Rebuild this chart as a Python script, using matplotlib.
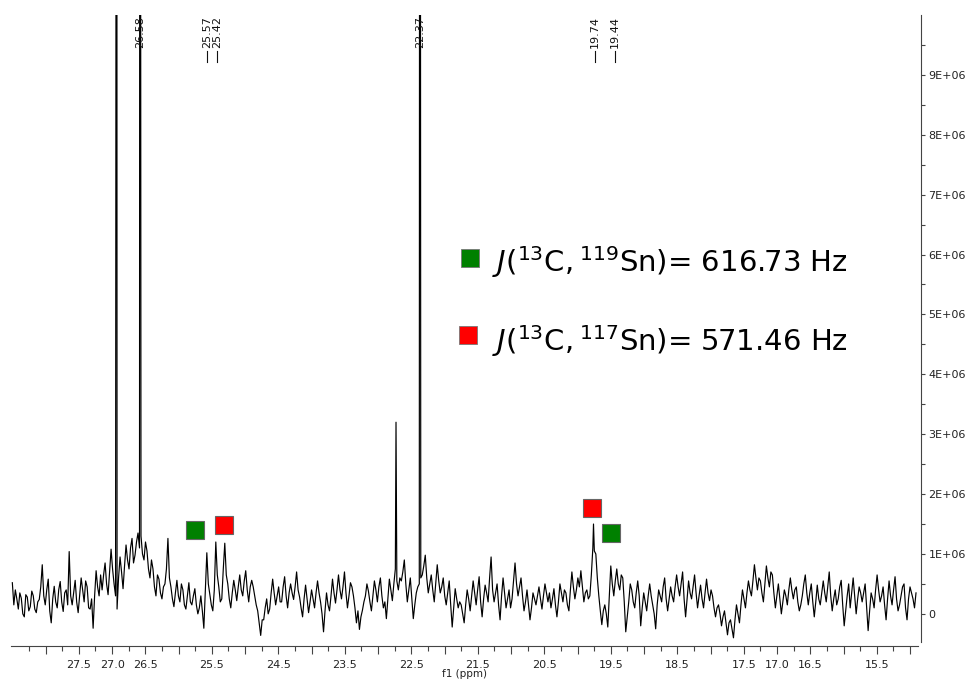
import numpy as np
import matplotlib.pyplot as plt
from matplotlib.ticker import FixedLocator, FixedFormatter

# 13C spectrum baseline, read every 0.0225 ppm from 28.50 ppm downwards (units of 1e5)
trace = [
    5.2, 1.5, 4.0, 2.5, 0.8, 3.5, 2.6, 0.0, -0.5, 3.2,
    2.8, 0.5, 1.2, 3.8, 3.0, 0.8, 0.2, 2.0, 2.4, 4.5,
    8.2, 3.0, 1.5, 4.0, 5.8, 0.5, -1.5, 2.5, 4.6, 2.0,
    1.0, 4.0, 5.4, 2.0, 0.4, 3.5, 4.0, 1.5, 10.4, 3.0,
    1.5, 3.5, 5.6, 2.0, 0.2, 3.0, 6.0, 4.0, 2.0, 5.5,
    4.5, 1.0, 0.8, 2.5, -2.4, 3.0, 7.2, 4.5, 3.0, 6.5,
    4.0, 6.5, 8.5, 5.0, 3.2, 7.0, 10.8, 7.5, 5.0, 3.0,
    0.8, 6.0, 9.5, 7.0, 4.2, 8.0, 11.5, 9.0, 7.5, 11.0,
    12.6, 8.5, 9.8, 12.0, 13.5, 11.0, 13.0, 10.0, 9.0, 12.0,
    10.5, 7.5, 6.0, 9.0, 7.5, 4.5, 3.0, 6.5, 5.8, 3.5,
    2.5, 4.5, 5.0, 7.5, 12.6, 6.0, 4.5, 2.5, 1.2, 3.5,
    5.6, 3.0, 2.0, 5.0, 4.0, 1.5, 0.8, 3.0, 5.2, 2.0,
    1.5, 3.0, 4.2, 1.5, 0.0, 1.0, 3.0, 0.5, -2.4, 4.0,
    10.2, 5.0, 3.2, 1.5, 0.5, 4.0, 12.0, 6.5, 4.5, 2.0,
    2.5, 7.5, 11.8, 6.5, 5.0, 2.5, 1.0, 3.5, 5.6, 4.0,
    2.2, 4.5, 6.5, 4.0, 3.0, 5.5, 7.2, 4.0, 2.0, 4.5,
    5.6, 4.5, 3.0, 1.5, 0.5, -1.5, -3.6, -1.0, -1.0, 1.0,
    2.5, 0.0, 0.8, 3.5, 5.8, 3.5, 1.5, 3.0, 4.5, 2.0,
    2.0, 4.5, 6.2, 3.0, 1.0, 3.5, 5.0, 3.5, 2.4, 4.5,
    7.0, 4.0, 2.8, 1.0, -0.5, 2.5, 4.8, 2.5, 0.2, 2.0,
    4.0, 2.5, 1.0, 3.5, 5.5, 3.5, 2.0, 0.0, -3.0, 0.5,
    3.5, 1.5, 0.5, 3.0, 5.8, 3.5, 1.8, 4.0, 6.5, 4.0,
    2.5, 4.5, 7.0, 3.5, 1.0, 3.0, 5.2, 4.5, 3.0, 1.0,
    -1.5, 0.5, -2.6, -0.5, 0.6, 2.0, 3.0, 5.0, 3.8, 2.0,
    0.5, 3.0, 5.5, 4.0, 2.0, 4.5, 6.0, 3.0, 1.0, 2.0,
    -0.8, 2.5, 5.8, 4.0, 2.2, 5.0, 7.5, 5.5, 4.0, 6.0,
    5.5, 7.0, 9.0, 5.0, 2.0, 4.0, 6.0, 2.5, -0.8, 1.5,
    3.5, 4.5, 5.0, 6.0, 6.5, 8.0, 9.8, 6.0, 3.5, 5.0,
    6.5, 4.0, 2.0, 5.0, 8.2, 5.5, 3.5, 4.5, 6.0, 3.0,
    1.5, 3.5, 5.5, 1.5, -2.2, 1.0, 4.2, 2.5, 1.0, 2.0,
    1.5, 0.0, -1.5, 1.5, 4.0, 2.5, 0.5, 3.0, 5.5, 3.5,
    1.5, 4.0, 6.2, 2.0, -0.5, 2.5, 4.8, 3.5, 2.0, 6.0,
    9.5, 4.0, 2.0, 3.5, 5.0, 1.5, -1.0, 3.0, 6.0, 3.5,
    1.0, 2.5, 4.0, 1.0, 2.5, 5.5, 8.5, 5.0, 3.0, 4.5,
    6.0, 3.0, 0.5, 2.0, 4.0, 1.5, -1.0, 1.0, 3.5, 2.5,
    1.5, 3.0, 4.5, 2.5, 0.8, 3.0, 5.0, 3.5, 2.0, 3.5,
    1.0, 2.5, 4.2, 1.5, -0.5, 2.0, 5.0, 3.5, 2.0, 4.0,
    3.5, 1.5, 0.5, 4.0, 7.0, 4.5, 2.5, 4.0, 6.0, 4.5,
    7.2, 4.5, 2.0, 3.5, 4.0, 2.5, 3.0, 6.5, 11.0, 10.5,
    10.0, 6.0, 3.0, 0.5, -1.8, 0.5, 1.5, 0.0, -2.2, 3.0,
    8.0, 5.0, 3.0, 5.5, 7.5, 5.0, 4.0, 6.5, 6.0, 2.0,
    -3.0, -0.5, 2.0, 5.0, 4.0, 2.0, 1.0, 3.5, 5.5, 3.0,
    -2.0, 1.0, 3.5, 2.0, 0.5, 3.0, 5.0, 3.0, 1.5, 0.0,
    -2.5, 1.5, 4.0, 3.0, 2.0, 4.5, 6.0, 2.5, 0.5, 2.5,
    4.5, 3.0, 2.0, 4.5, 6.5, 4.5, 3.0, 5.0, 7.0, 2.5,
    -0.5, 2.5, 5.5, 3.5, 2.5, 4.5, 6.5, 3.5, 1.0, 3.0,
    4.8, 2.5, 1.0, 3.5, 5.8, 3.5, 2.2, 4.0, 3.0, 1.0,
    -0.5, 1.0, 1.5, 0.0, -2.0, -0.5, 0.5, -1.5, -3.5, -1.5,
    -1.0, -2.5, -4.0, -1.0, 1.5, 0.0, -1.5, 1.5, 4.0, 2.5,
    1.0, 3.5, 5.5, 4.0, 3.0, 5.5, 8.2, 6.0, 4.0, 6.0,
    5.5, 3.5, 2.0, 5.0, 8.0, 6.0, 4.5, 7.0, 6.5, 3.5,
    1.0, 3.0, 5.0, 2.5, 0.0, 2.0, 4.0, 3.0, 1.5, 4.0,
    6.0, 4.0, 2.5, 4.0, 4.5, 2.0, 0.5, 1.5, 3.0, 5.0,
    6.5, 3.5, 1.5, 3.5, 5.0, 2.0, -0.5, 2.0, 4.8, 2.5,
    1.5, 3.5, 5.5, 3.5, 2.0, 4.5, 7.0, 3.0, 0.5, 2.5,
    4.0, 1.5, 2.5, 4.5, 5.6, 1.5, -2.0, 0.5, 3.0, 5.0,
    1.0, 3.5, 6.0, 3.0, 0.0, 2.5, 4.5, 3.5, 2.0, 3.5,
    5.0, 1.0, -2.8, 0.5, 3.5, 2.5, 1.0, 4.0, 6.5, 4.0,
    2.0, 3.0, 4.5, 1.5, -1.0, 2.5, 5.5, 3.0, 1.5, 4.0,
    6.2, 2.5, 0.5, 1.5, 3.0, 4.5, 5.0, 1.0, -1.0, 2.5,
    4.5, 3.5, 2.5, 1.0, 3.5,
]
ppm_start = 28.50
ppm_step = 0.0225

# sharp lines (ppm, intensity in 1e5); the big ones run off the top
peak_ppm = [26.93, 26.58, 22.73, 22.37, 19.76]
peak_int = [300.0, 300.0, 32.0, 300.0, 15.0]

label_ppm = [26.58, 25.57, 25.42, 22.37, 19.74, 19.44]
label_txt = ['26.58', '25.57', '25.42', '22.37', '19.74', '19.44']

# satellite markers
sat119_ppm = [25.75, 19.50]
sat119_int = [1.40e6, 1.35e6]
sat117_ppm = [25.32, 19.785]
sat117_int = [1.49e6, 1.77e6]

x_labeled = [27.5, 27.0, 26.5, 25.5, 24.5, 23.5, 22.5, 21.5, 20.5, 19.5,
             18.5, 17.5, 17.0, 16.5, 15.5]

green = '#008000'
red = '#ff0000'

base_x = ppm_start - ppm_step * np.arange(len(trace))
x = np.concatenate([base_x, peak_ppm])
y = np.concatenate([trace, peak_int]) * 1e5
order = np.argsort(-x)
x, y = x[order], y[order]

fig = plt.figure(figsize=(9.66, 6.83), dpi=100)
ax = fig.add_axes([11 / 966, 41 / 683, 907 / 966, 627 / 683])
ax.plot(x, y, color='black', lw=0.85)
ax.set_xlim(28.52, 14.88)
ax.set_ylim(-0.47e6, 10.0e6)

# satellites
ax.plot(sat119_ppm, sat119_int, 's', ms=13.5, color=green, mec='#666666', mew=0.8)
ax.plot(sat117_ppm, sat117_int, 's', ms=13.5, color=red, mec='#666666', mew=0.8)

# spines / ticks
for s in ['left', 'top']:
    ax.spines[s].set_visible(False)
ax.spines['right'].set_position(('outward', 2.5))
ax.spines['bottom'].set_position(('outward', 3))
ax.spines['right'].set_color('#444444')
ax.spines['bottom'].set_color('#444444')

majors = np.arange(15.0, 28.01, 0.5)
ax.xaxis.set_major_locator(FixedLocator(majors))
ax.xaxis.set_major_formatter(FixedFormatter(
    ['%.1f' % m if any(abs(m - v) < 1e-6 for v in x_labeled) else '' for m in majors]))
ax.xaxis.set_minor_locator(FixedLocator(np.arange(15.25, 28.5, 0.5)))
ax.tick_params(axis='x', which='major', length=6, width=0.8, labelsize=8, pad=4,
               color='#444444', labelcolor='#222222')
ax.tick_params(axis='x', which='minor', length=3.5, width=0.8, color='#444444')

ax.yaxis.tick_right()
yt = np.arange(0, 9.01e6, 1e6)
ax.yaxis.set_major_locator(FixedLocator(yt))
ax.yaxis.set_major_formatter(FixedFormatter(['0'] + ['%dE+06' % k for k in range(1, 10)]))
ax.yaxis.set_minor_locator(FixedLocator(np.arange(0.5e6, 9.6e6, 1e6)))
ax.tick_params(axis='y', which='major', length=3, width=0.8, labelsize=8, pad=2,
               color='#444444', labelcolor='#222222')
ax.tick_params(axis='y', which='minor', length=3, width=0.8, color='#444444')

ax.set_xlabel('f1 (ppm)', fontsize=7.5, labelpad=-1, color='#222222')

# peak labels on top
for p, t in zip(label_ppm, label_txt):
    ax.text(p, 0.998, t, rotation=90, ha='center', va='top', fontsize=8,
            transform=ax.get_xaxis_transform(), color='#111111')
    if t not in ('26.58', '22.37'):
        ax.plot([p, p], [0.942, 0.925], color='#111111', lw=0.8,
                transform=ax.get_xaxis_transform())

# coupling constants
ax.plot([470 / 966], [1 - 258 / 683], 's', ms=13, color=green, mec='#777777', mew=0.6,
        transform=fig.transFigure, clip_on=False)
ax.plot([468 / 966], [1 - 335 / 683], 's', ms=13, color=red, mec='#777777', mew=0.6,
        transform=fig.transFigure, clip_on=False)
fig.text(492 / 966, 1 - 262 / 683,
         r'$\mathit{J}(^{13}\mathrm{C},^{119}\mathrm{Sn})$= 616.73 Hz',
         fontsize=21, va='center', ha='left')
fig.text(492 / 966, 1 - 341 / 683,
         r'$\mathit{J}(^{13}\mathrm{C},^{117}\mathrm{Sn})$= 571.46 Hz',
         fontsize=21, va='center', ha='left')

fig.savefig('out.png', dpi=100)
